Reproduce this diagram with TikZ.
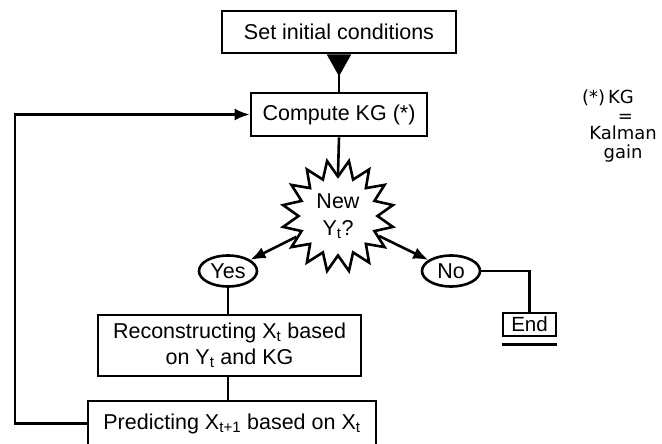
\documentclass[tikz,border=0pt]{standalone}
\usepackage{fontspec}
\setmainfont{Liberation Sans}
\newfontfamily\notefont{DejaVu Sans}
\usetikzlibrary{shapes.geometric,arrows.meta}
\begin{document}
\begin{tikzpicture}[x=1pt,y=-1pt,
  mainfont/.style={font=\fontsize{21.5}{26}\selectfont},
  box/.style={draw, line width=2.6pt, inner sep=0pt, align=center, mainfont},
  oval/.style={draw, ellipse, line width=2.6pt, inner sep=0pt, minimum width=58pt, minimum height=31pt, mainfont},
  conn/.style={line width=2.6pt},
  tip/.style={-{Latex[length=15pt,width=12pt]}},
  note/.style={font=\notefont\fontsize{18}{19}\selectfont, align=center, inner sep=0pt}]
\clip (0,0) rectangle (662,444);
\fill[white] (0,0) rectangle (662,444);
% boxes
\node[box, minimum width=234pt, minimum height=42pt] (set) at (339,32) {Set initial conditions};
\node[box, minimum width=176pt, minimum height=43pt] (comp) at (339,114.5) {Compute KG (*)};
\node[draw, star, star points=16, star point ratio=1.42, shape border rotate=11.25,
      minimum size=112pt, inner sep=0pt, line width=2.6pt, align=center,
      font=\fontsize{21.5}{27}\selectfont] (star) at (338,216) {New\\Y\textsubscript{t}?};
\node[oval] (yes) at (228,271) {Yes};
\node[oval] (no) at (451,271) {No};
\node[box, minimum width=263pt, minimum height=61pt] (rec) at (229.5,345.5) {Reconstructing X\textsubscript{t} based\\on Y\textsubscript{t} and KG};
\node[box, minimum width=288pt, minimum height=45pt] (pred) at (232,423.5) {Predicting X\textsubscript{t+1} based on X\textsubscript{t}};
\node[box, minimum width=53pt, minimum height=23pt, font=\fontsize{20.5}{24}\selectfont] (end) at (529.5,324.5) {End};
% note
\node[note, anchor=north] (note) at (623,90) {(*)\,KG\hspace*{30pt}\\[0pt]\hspace*{5pt}=\\[-2pt]Kalman\\[0pt]gain};
% connectors
\draw[conn, {Triangle[reversed,length=22pt,width=24pt]}-] (set.south) -- (comp.north);
\draw[conn] (comp.south) -- (star.north);
\draw[conn, tip] (star) -- (yes);
\draw[conn, tip] (star) -- (no);
\draw[conn] (yes.south) -- (yes.south |- rec.north);
\draw[conn] (rec.south -| yes.south) -- (yes.south |- pred.north);
\draw[conn] (no.east) -| (end.north);
\draw[conn] ([yshift=-7pt]end.south west) -- ([yshift=-7pt]end.south east);
\coordinate (loopc) at (15,423.5);
\draw[conn, tip] (pred.west) -- (loopc) |- (comp.west);
\end{tikzpicture}
\end{document}
